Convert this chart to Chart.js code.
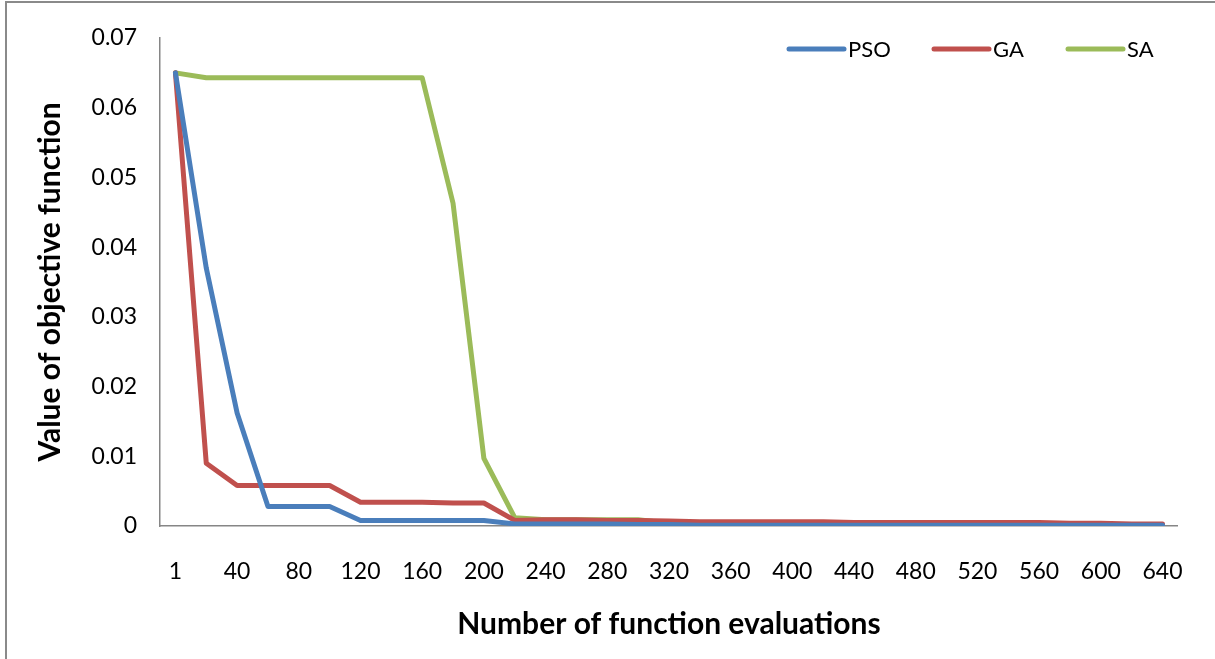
<!DOCTYPE html>
<html>
<head>
<meta charset="utf-8">
<script src="https://cdn.jsdelivr.net/npm/chart.js@4/dist/chart.umd.min.js"></script>
<style>
  html, body { margin: 0; padding: 0; background: #fff; }
  canvas { display: block; }
</style>
</head>
<body>
<canvas id="chartConv" width="1215" height="659"></canvas>
<script>
// evaluations on the category axis
const evaluations = [1, 20, 40, 60, 80, 100, 120, 140, 160, 180, 200, 220, 240, 260, 280, 300, 320,
   340, 360, 380, 400, 420, 440, 460, 480, 500, 520, 540, 560, 580, 600, 620, 640];

const psoValues = [0.065, 0.037, 0.0162, 0.0028, 0.0028, 0.0028, 0.0008, 0.0008, 0.0008, 0.0008, 0.0008,
   0.0003, 0.0003, 0.0003, 0.0003, 0.0002, 0.0002, 0.0001, 0.0001, 0.0001, 0.0001, 0.0001, 0.0001,
   0.0001, 0.0001, 0.0001, 0.0001, 0.0001, 0.0001, 0.0001, 0.0001, 0.0001, 0.0001];

const gaValues = [0.065, 0.009, 0.0058, 0.0058, 0.0058, 0.0058, 0.0034, 0.0034, 0.0034, 0.0033, 0.0033,
   0.0008, 0.0009, 0.0009, 0.0008, 0.0008, 0.0007, 0.0006, 0.0006, 0.0006, 0.0006, 0.0006, 0.0005,
   0.0005, 0.0005, 0.0005, 0.0005, 0.0005, 0.0005, 0.0004, 0.0004, 0.0003, 0.0003];

const saValues = [0.065, 0.0643, 0.0643, 0.0643, 0.0643, 0.0643, 0.0643, 0.0643, 0.0643, 0.0463, 0.0097,
   0.0012, 0.0009, 0.0009, 0.0009, 0.0009, 0.0004, 0.0001, 0.0001, 0.0001, 0.0001, 0, 0,
   0, 0, 0, 0, 0, 0, 0, 0, 0, 0];

const yTicks = [0, 0.01, 0.02, 0.03, 0.04, 0.05, 0.06, 0.07];

const FONT = "Lato, 'Open Sans', sans-serif";
Chart.defaults.font.family = FONT;
Chart.defaults.color = '#000';

// grey frame on the left and top, like the cropped office chart
const framePlugin = {
   id: 'frame',
   beforeDraw: function (chart) {
      const c = chart.ctx;
      c.save();
      c.strokeStyle = '#8a8a8a';
      c.lineWidth = 2;
      c.beginPath();
      c.moveTo(6, 659);
      c.lineTo(6, 2);
      c.lineTo(1215, 2);
      c.stroke();
      c.restore();
   }
};

// legend sits inside the plot, top right, in one row
const legendInside = {
   id: 'legendInside',
   afterDraw: function (chart) {
      const c = chart.ctx;
      const starts = [789, 934, 1068];
      const y = 49;
      c.save();
      c.font = '22px ' + FONT;
      c.textBaseline = 'middle';
      c.fillStyle = '#000';
      chart.data.datasets.forEach((ds, i) => {
         const x = starts[i];
         c.strokeStyle = ds.borderColor;
         c.lineWidth = 5;
         c.lineCap = 'round';
         c.beginPath();
         c.moveTo(x, y);
         c.lineTo(x + 55, y);
         c.stroke();
         c.fillText(ds.label, x + 59, y + 1);
      });
      c.restore();
   }
};

const line = (label, data, color) => ({
   label: label,
   data: data,
   borderColor: color,
   backgroundColor: color,
   borderWidth: 5,
   pointRadius: 0,
   pointHoverRadius: 0,
   tension: 0,
   borderJoinStyle: 'round',
   borderCapStyle: 'round',
});

const ctx = document.getElementById('chartConv').getContext('2d');
const chartConv = new Chart(ctx, {
   type: 'line',
   data: {
      labels: evaluations,
      datasets: [
         line('PSO', psoValues, '#4a7ebb'),
         line('GA', gaValues, '#c0504d'),
         line('SA', saValues, '#9bbb59'),
      ]
   },
   options: {
      responsive: false,
      animation: false,
      layout: {
         padding: { left: 30, top: 38, right: 32, bottom: 15 }
      },
      scales: {
         x: {
            type: 'category',
            offset: true,
            grid: { display: false, drawTicks: false },
            border: { color: '#868686', width: 1.5 },
            ticks: {
               autoSkip: false,
               maxRotation: 0,
               padding: 32,
               font: { size: 23 },
               callback: function (value, index) {
                  return index % 2 === 0 ? this.getLabelForValue(value) : '';
               }
            },
            title: {
               display: true,
               text: 'Number of function evaluations',
               font: { size: 30, weight: 'bold' },
               padding: { top: 0, bottom: 2 }
            },
            afterFit: function (scale) { scale.height = 118; }
         },
         y: {
            min: 0,
            max: 0.07,
            grid: { display: false, drawTicks: false },
            border: { color: '#868686', width: 1.5 },
            afterBuildTicks: function (scale) {
               scale.ticks = yTicks.map(v => ({ value: v }));
            },
            ticks: {
               padding: 23,
               font: { size: 23 },
               callback: value => value === 0 ? '0' : value.toFixed(2)
            },
            title: {
               display: true,
               text: 'Value of objective function',
               font: { size: 30, weight: 'bold' },
               padding: { top: 2, bottom: 0 }
            },
            afterFit: function (scale) { scale.width = 130; }
         }
      },
      plugins: {
         legend: { display: false },
         tooltip: { enabled: false }
      }
   },
   plugins: [framePlugin, legendInside]
});
</script>
</body>
</html>
